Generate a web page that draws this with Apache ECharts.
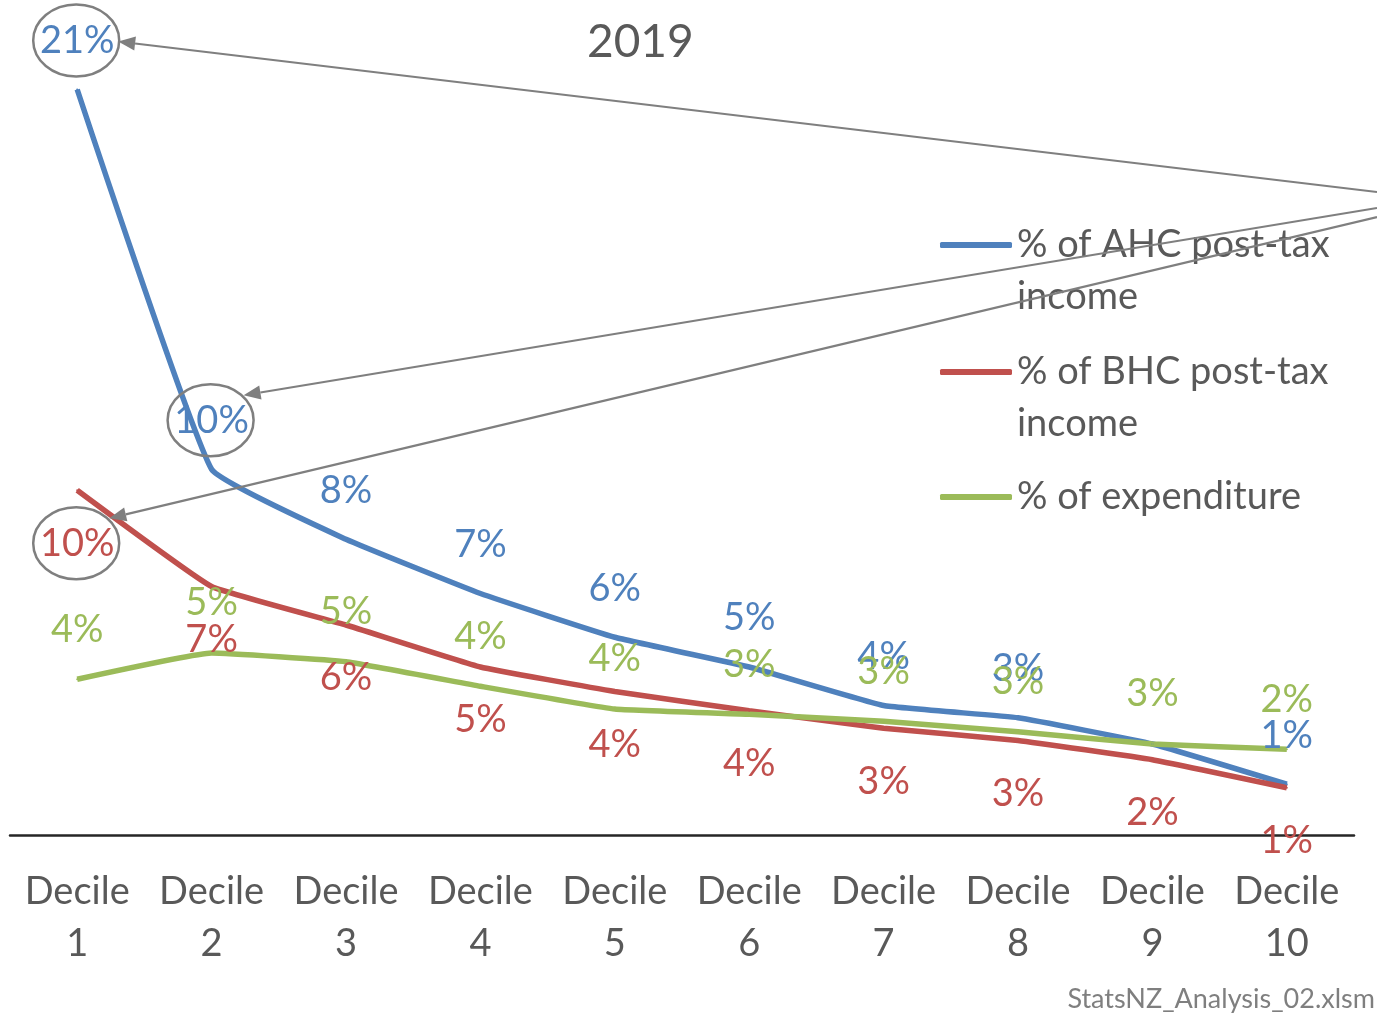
<!DOCTYPE html>
<html>
<head>
<meta charset="utf-8">
<title>2019</title>
<script src="https://cdn.jsdelivr.net/npm/echarts@6/dist/echarts.min.js"></script>
<style>
html, body { margin: 0; padding: 0; background: #fff; }
#chart { width: 1377px; height: 1016px; }
</style>
</head>
<body>
<div id="chart"></div>
<script>
// data
var deciles = ['Decile\n1', 'Decile\n2', 'Decile\n3', 'Decile\n4', 'Decile\n5',
               'Decile\n6', 'Decile\n7', 'Decile\n8', 'Decile\n9', 'Decile\n10'];
var ahcShare = [21.3, 10.45, 8.45, 6.9, 5.65, 4.8, 3.7, 3.35, 2.6, 1.45];
var bhcShare = [9.85, 7.1, 6.0, 4.8, 4.1, 3.55, 3.05, 2.7, 2.15, 1.35];
var expShare = [4.45, 5.2, 4.95, 4.25, 3.6, 3.45, 3.25, 2.95, 2.6, 2.45];
var seriesNames = ['% of AHC post-tax\nincome', '% of BHC post-tax\nincome', '% of expenditure'];
var ahcNoLabel = [8]; // decile 9 AHC label is missing in the original

var FONT = 'Lato';
var GREY = '#595959';
var colors = ['#4f81bd', '#c0504d', '#9bbb59'];

var myChart = echarts.init(document.getElementById('chart'));

function pct(p) {
    return Math.round(p.value) + '%';
}

function makeSeries(name, values, color, dy, hidden) {
    return {
        name: name,
        type: 'line',
        smooth: 0.1,
        symbol: 'circle',
        symbolSize: 2,
        showSymbol: true,
        silent: true,
        lineStyle: { color: color, width: 5.5 },
        itemStyle: { color: color },
        label: {
            show: true,
            position: 'inside',
            offset: [0, dy],
            formatter: pct,
            color: color,
            fontFamily: FONT,
            fontSize: 38
        },
        data: values.map(function (v, i) {
            if (hidden && hidden.indexOf(i) >= 0) {
                return { value: v, label: { show: false } };
            }
            return v;
        })
    };
}

var option = {
    animation: false,
    backgroundColor: '#fff',
    title: [{
        text: '2019',
        left: 587,
        top: 19,
        padding: 0,
        textStyle: { fontFamily: FONT, fontSize: 46, fontWeight: 'normal', color: GREY }
    }, {
        text: 'StatsNZ_Analysis_02.xlsm',
        right: 2,
        bottom: 3,
        padding: 0,
        textStyle: { fontFamily: FONT, fontSize: 27, fontWeight: 'normal', color: '#7f7f7f' }
    }],
    legend: {
        orient: 'vertical',
        left: 940,
        top: 167,
        padding: 0,
        itemGap: -29,
        itemWidth: 72,
        itemHeight: 6,
        icon: 'roundRect',
        selectedMode: false,
        // blank first line keeps the icon level with the first text line
        formatter: function (name) {
            return name.indexOf('\n') >= 0 ? '\n' + name : name;
        },
        textStyle: { fontFamily: FONT, fontSize: 38, color: GREY, lineHeight: 52 },
        data: [
            { name: seriesNames[0] },
            { name: seriesNames[1] },
            { name: seriesNames[2], textStyle: { padding: [50, 0, 50, 0] } }
        ]
    },
    grid: { left: 10, right: 23, top: 65, bottom: 181 },
    xAxis: {
        type: 'category',
        data: deciles,
        boundaryGap: true,
        axisLine: { lineStyle: { color: '#262626', width: 2.5 } },
        axisTick: { show: false },
        axisLabel: {
            margin: 31,
            fontFamily: FONT,
            fontSize: 38,
            lineHeight: 52,
            color: GREY,
            interval: 0
        }
    },
    yAxis: {
        type: 'value',
        min: 0,
        max: 22,
        show: false,
        splitLine: { show: false }
    },
    series: [
        makeSeries(seriesNames[0], ahcShare, colors[0], -49, ahcNoLabel),
        makeSeries(seriesNames[1], bhcShare, colors[1], 53),
        makeSeries(seriesNames[2], expShare, colors[2], -50)
    ]
};
myChart.setOption(option);

// circled labels with arrows pointing at them
function arrow(x1, y1, x2, y2) {
    var a = Math.atan2(y2 - y1, x2 - x1);
    var len = 17, half = 7;
    var bx = x2 - len * Math.cos(a), by = y2 - len * Math.sin(a);
    var nx = -Math.sin(a), ny = Math.cos(a);
    return [{
        type: 'line',
        shape: { x1: x1, y1: y1, x2: bx, y2: by },
        style: { stroke: '#7f7f7f', lineWidth: 2.2 },
        z: 100
    }, {
        type: 'polygon',
        shape: { points: [[x2, y2], [bx + nx * half, by + ny * half], [bx - nx * half, by - ny * half]] },
        style: { fill: '#7f7f7f' },
        z: 100
    }];
}

var circled = [
    { series: 0, idx: 0, dy: -49, from: [1377, 192], tip: [42, 1] },
    { series: 0, idx: 1, dy: -49, from: [1377, 208], tip: [33, -25] },
    { series: 1, idx: 0, dy: 53, from: [1377, 217], tip: [33, -25] }
];
var srcData = [ahcShare, bhcShare, expShare];
var marks = [];
circled.forEach(function (c) {
    var p = myChart.convertToPixel({ seriesIndex: c.series }, [c.idx, srcData[c.series][c.idx]]);
    var cx = p[0] - 1, cy = p[1] + c.dy;
    marks.push({
        type: 'ellipse',
        shape: { cx: cx, cy: cy, rx: 43, ry: 36 },
        style: { fill: 'none', stroke: '#7f7f7f', lineWidth: 2.5 },
        z: 100
    });
    marks = marks.concat(arrow(c.from[0], c.from[1], cx + c.tip[0], cy + c.tip[1]));
});
myChart.setOption({ graphic: marks });
</script>
</body>
</html>
